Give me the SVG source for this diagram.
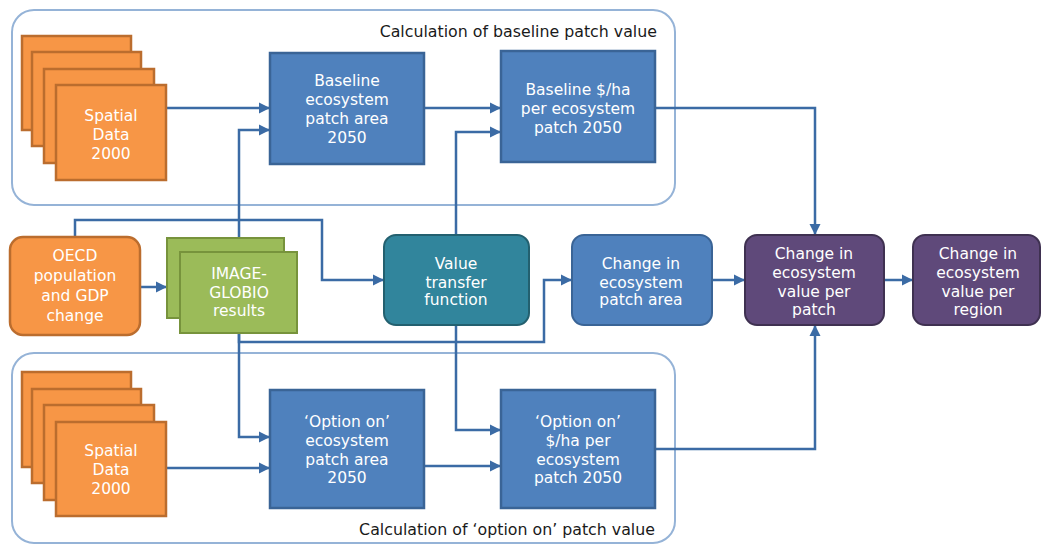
<svg xmlns="http://www.w3.org/2000/svg" width="1041" height="546" viewBox="0 0 1041 546">
<defs>
<marker id="arr" markerUnits="userSpaceOnUse" markerWidth="12" markerHeight="12" refX="11" refY="6" orient="auto">
<path d="M0,0.5 L11,6 L0,11.5 Z" fill="#3b6ba5"/>
</marker>
<style>
.cont{fill:none;stroke:#95b3d7;stroke-width:2}
.title{font-family:"DejaVu Sans",sans-serif;font-size:15.8px;fill:#1a1a1a;text-anchor:end}
.t{font-family:"DejaVu Sans",sans-serif;font-size:15.5px;fill:#ffffff;text-anchor:middle}
.or{fill:#f79646;stroke:#bb6d2e;stroke-width:2.5}
.bl{fill:#4f81bd;stroke:#3a6496;stroke-width:2.5}
.gr{fill:#9bbb59;stroke:#77933c;stroke-width:2}
.te{fill:#31859c;stroke:#23606f;stroke-width:2}
.pu{fill:#5f497a;stroke:#3f3151;stroke-width:2}
.c{fill:none;stroke:#3b6ba5;stroke-width:2.5}
.ca{fill:none;stroke:#3b6ba5;stroke-width:2.5;marker-end:url(#arr)}
</style>
</defs>
<g id="container-baseline">
<rect class="cont" x="12" y="10" width="663" height="195" rx="22"/>
<text class="title" x="657" y="37">Calculation of baseline patch value</text>
</g>
<g id="container-option">
<rect class="cont" x="12" y="353" width="663" height="190" rx="22"/>
<text class="title" x="655" y="535">Calculation of ‘option on’ patch value</text>
</g>
<g id="connectors">
<path class="ca" d="M166,108 H270"/>
<path class="ca" d="M239,238 V130 H270"/>
<path class="ca" d="M424,108 H501"/>
<path class="ca" d="M456,235 V132 H501"/>
<path class="ca" d="M655,108 H815 V235"/>
<path class="ca" d="M140,287 H167"/>
<path class="ca" d="M75,237 V220 H322 V280 H384"/>
<path class="ca" d="M239,333 V342 H544 V280 H572"/>
<path class="ca" d="M239,333 V437 H270"/>
<path class="ca" d="M166,468 H270"/>
<path class="ca" d="M424,466 H501"/>
<path class="ca" d="M456,325 V430 H501"/>
<path class="ca" d="M655,449 H815 V325"/>
<path class="ca" d="M712,280 H745"/>
<path class="ca" d="M884,280 H913"/>
</g>
<g id="spatial-data-top">
<rect class="or" x="22" y="36" width="109" height="94"/>
<rect class="or" x="32" y="52" width="109" height="94"/>
<rect class="or" x="44" y="69" width="110" height="94"/>
<rect class="or" x="56" y="85" width="110" height="95"/>
<text class="t" x="111" y="121">Spatial</text>
<text class="t" x="111" y="140">Data</text>
<text class="t" x="111" y="159">2000</text>
</g>
<g id="baseline-area">
<rect class="bl" x="270" y="53" width="154" height="111"/>
<text class="t" x="347" y="86">Baseline</text>
<text class="t" x="347" y="105">ecosystem</text>
<text class="t" x="347" y="124">patch area</text>
<text class="t" x="347" y="143">2050</text>
</g>
<g id="baseline-value">
<rect class="bl" x="501" y="51" width="154" height="111"/>
<text class="t" x="578" y="95">Baseline $/ha</text>
<text class="t" x="578" y="114">per ecosystem</text>
<text class="t" x="578" y="133">patch 2050</text>
</g>
<g id="oecd">
<rect class="or" x="10" y="237" width="130" height="98" rx="13"/>
<text class="t" x="75" y="261">OECD</text>
<text class="t" x="75" y="281">population</text>
<text class="t" x="75" y="301">and GDP</text>
<text class="t" x="75" y="321">change</text>
</g>
<g id="image-globio">
<rect class="gr" x="167" y="238" width="117" height="80"/>
<rect class="gr" x="180" y="252" width="117" height="81"/>
<text class="t" x="239" y="279">IMAGE-</text>
<text class="t" x="239" y="298">GLOBIO</text>
<text class="t" x="239" y="316">results</text>
</g>
<g id="value-transfer">
<rect class="te" x="384" y="235" width="145" height="90" rx="12"/>
<text class="t" x="456" y="269">Value</text>
<text class="t" x="456" y="288">transfer</text>
<text class="t" x="456" y="305">function</text>
</g>
<g id="change-area">
<rect class="bl" x="572" y="235" width="140" height="90" rx="12" style="stroke-width:2"/>
<text class="t" x="641" y="269">Change in</text>
<text class="t" x="641" y="288">ecosystem</text>
<text class="t" x="641" y="305">patch area</text>
</g>
<g id="change-patch">
<rect class="pu" x="745" y="235" width="139" height="90" rx="12"/>
<text class="t" x="814" y="259">Change in</text>
<text class="t" x="814" y="278">ecosystem</text>
<text class="t" x="814" y="297">value per</text>
<text class="t" x="814" y="315">patch</text>
</g>
<g id="change-region">
<rect class="pu" x="913" y="235" width="127" height="90" rx="12"/>
<text class="t" x="978" y="259">Change in</text>
<text class="t" x="978" y="278">ecosystem</text>
<text class="t" x="978" y="297">value per</text>
<text class="t" x="978" y="315">region</text>
</g>
<g id="spatial-data-bottom">
<rect class="or" x="22" y="372" width="109" height="95"/>
<rect class="or" x="32" y="389" width="109" height="94"/>
<rect class="or" x="44" y="405" width="110" height="95"/>
<rect class="or" x="56" y="422" width="110" height="94"/>
<text class="t" x="111" y="456">Spatial</text>
<text class="t" x="111" y="475">Data</text>
<text class="t" x="111" y="494">2000</text>
</g>
<g id="option-area">
<rect class="bl" x="270" y="390" width="154" height="118"/>
<text class="t" x="347" y="427">‘Option on’</text>
<text class="t" x="347" y="446">ecosystem</text>
<text class="t" x="347" y="465">patch area</text>
<text class="t" x="347" y="483">2050</text>
</g>
<g id="option-value">
<rect class="bl" x="501" y="390" width="154" height="118"/>
<text class="t" x="578" y="427">‘Option on’</text>
<text class="t" x="578" y="446">$/ha per</text>
<text class="t" x="578" y="465">ecosystem</text>
<text class="t" x="578" y="483">patch 2050</text>
</g>
</svg>
